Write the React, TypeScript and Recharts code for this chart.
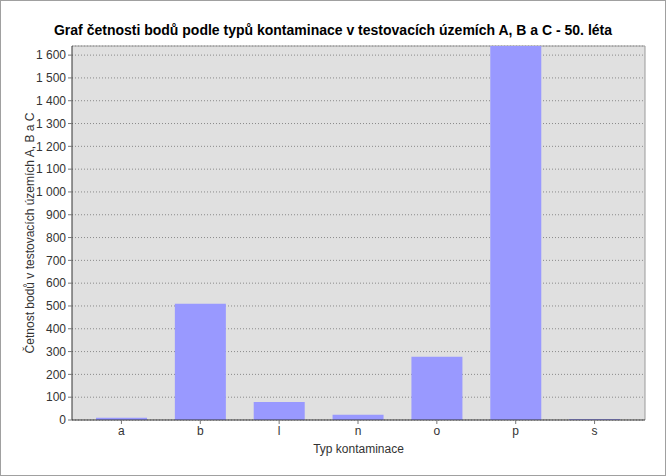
import React from "react";
import { BarChart, Bar, XAxis, YAxis, CartesianGrid } from "recharts";

const categories = ["a", "b", "l", "n", "o", "p", "s"];
const counts = [10, 510, 79, 23, 277, 1640, 4];
const yTicks = [0, 100, 200, 300, 400, 500, 600, 700, 800, 900, 1000, 1100, 1200, 1300, 1400, 1500, 1600];

const data = categories.map((name, i) => ({ name, value: counts[i] }));

const font = "'Liberation Sans', Arial, sans-serif";

const fmt = (v: number) => (v >= 1000 ? `${Math.floor(v / 1000)} ${String(v % 1000).padStart(3, "0")}` : String(v));

export default function App() {
    return (
        <div
            style={{
                position: "absolute",
                left: 0,
                top: 0,
                width: 664,
                height: 474,
                border: "1px solid #a0a0a0",
                background: "#fff",
                fontFamily: font,
            }}
        >
            <div
                style={{
                    position: "absolute",
                    top: 21,
                    width: "100%",
                    textAlign: "center",
                    fontSize: 14,
                    fontWeight: "bold",
                    color: "#000",
                }}
            >
                Graf četnosti bodů podle typů kontaminace v testovacích územích A, B a C - 50. léta
            </div>
            <BarChart
                width={664}
                height={474}
                data={data}
                margin={{ top: 45, right: 20, bottom: 0, left: 0 }}
                barSize={51}
            >
                <CartesianGrid
                    vertical={false}
                    fill="#e0e0e0"
                    stroke="#8a8a8a"
                    strokeDasharray="1 2"
                />
                <CartesianGrid
                    stroke="#9a9a9a"
                    horizontalCoordinatesGenerator={({ offset }: any) => [offset.top]}
                    verticalCoordinatesGenerator={({ offset }: any) => [offset.left + offset.width]}
                />
                <XAxis
                    dataKey="name"
                    padding={{ left: 10, right: 11 }}
                    axisLine={{ stroke: "#333" }}
                    tickLine={{ stroke: "#777" }}
                    tickSize={4}
                    tick={{ fontSize: 12, fill: "#333", fontFamily: font }}
                    label={{ value: "Typ kontaminace", position: "insideBottom", offset: 22, fontSize: 12, fill: "#333", fontFamily: font }}
                    height={55}
                />
                <YAxis
                    width={71}
                    domain={[0, 1640]}
                    ticks={yTicks}
                    interval={0}
                    allowDataOverflow
                    tickFormatter={fmt}
                    axisLine={{ stroke: "#333" }}
                    tickLine={{ stroke: "#777" }}
                    tickSize={4}
                    tick={{ fontSize: 12, fill: "#333", fontFamily: font }}
                    label={{
                        value: "Četnost bodů v testovacích územích A, B a C",
                        angle: -90,
                        position: "insideLeft",
                        offset: 29,
                        style: { textAnchor: "middle" },
                        fontSize: 12,
                        fill: "#333",
                        fontFamily: font,
                    }}
                />
                <Bar dataKey="value" fill="#9999ff" isAnimationActive={false} />
            </BarChart>
        </div>
    );
}
